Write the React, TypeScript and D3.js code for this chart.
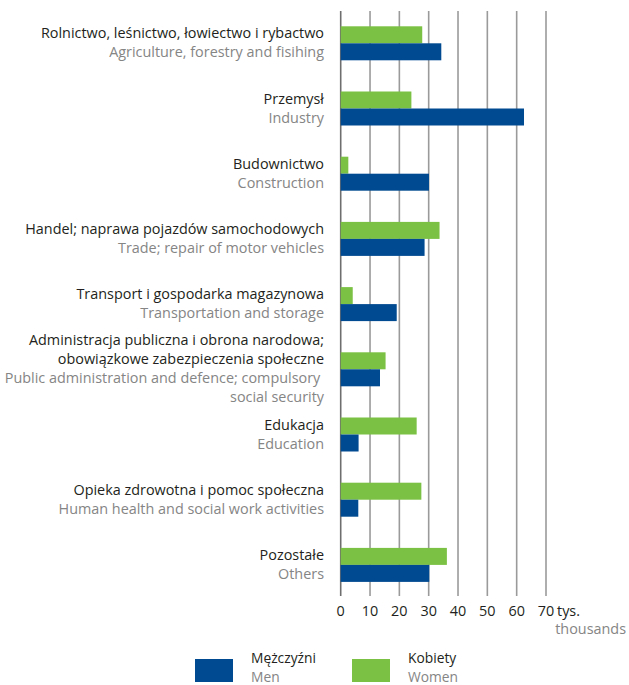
import React, { useEffect, useRef } from "react";
import * as d3 from "d3";

const categoriesPL: string[][] = [
  ["Rolnictwo, leśnictwo, łowiectwo i rybactwo"],
  ["Przemysł"],
  ["Budownictwo"],
  ["Handel; naprawa pojazdów samochodowych"],
  ["Transport i gospodarka magazynowa"],
  ["Administracja publiczna i obrona narodowa;", "obowiązkowe zabezpieczenia społeczne"],
  ["Edukacja"],
  ["Opieka zdrowotna i pomoc społeczna"],
  ["Pozostałe"],
];
const categoriesEN: string[][] = [
  ["Agriculture, forestry and fisihing"],
  ["Industry"],
  ["Construction"],
  ["Trade; repair of motor vehicles"],
  ["Transportation and storage"],
  ["Public administration and defence; compulsory ", "social security"],
  ["Education"],
  ["Human health and social work activities"],
  ["Others"],
];
const men: number[] = [34.3, 62.5, 30.1, 28.6, 19.1, 13.4, 6.1, 6.0, 30.2];
const women: number[] = [27.8, 24.1, 2.6, 33.7, 4.1, 15.3, 25.9, 27.5, 36.2];
const ticks: number[] = [0, 10, 20, 30, 40, 50, 60, 70];
const seriesNames = [
  { key: "men", pl: "Mężczyźni", en: "Men" },
  { key: "women", pl: "Kobiety", en: "Women" },
];

const W = 629;
const H = 685;
const BLUE = "#004a91";
const GREEN = "#7bc143";
const DARK = "#231f20";
const GRAY = "#858585";
const FONT = "'Open Sans', sans-serif";
const FS = 14.4;
const LEG_FS = 13.8;

export default function App() {
  const ref = useRef<SVGSVGElement>(null);

  useEffect(() => {
    const svg = d3.select(ref.current);
    svg.selectAll("*").remove();

    const x = d3.scaleLinear().domain([0, 70]).range([340.7, 546]);
    const y = d3
      .scaleBand<number>()
      .domain(d3.range(categoriesPL.length))
      .range([10.7, 597.5])
      .padding(0);
    const half = 17;
    const sub = d3.scaleBand<string>().domain(["women", "men"]).range([-half, half]);

    const g = svg.append("g");
    g.selectAll("line.grid")
      .data(ticks)
      .join("line")
      .attr("x1", (d) => x(d))
      .attr("x2", (d) => x(d))
      .attr("y1", 11)
      .attr("y2", 596)
      .attr("stroke", (d) => (d === 0 ? "#6e6e6e" : "#9a9a9a"))
      .attr("stroke-width", 1.6);

    g.selectAll("text.tick")
      .data(ticks)
      .join("text")
      .attr("x", (d) => x(d))
      .attr("y", 616)
      .attr("text-anchor", "middle")
      .attr("font-family", FONT)
      .attr("font-size", FS)
      .attr("fill", DARK)
      .text((d) => String(d));
    g.append("text")
      .attr("x", 557)
      .attr("y", 616)
      .attr("font-family", FONT)
      .attr("font-size", FS)
      .attr("fill", DARK)
      .text("tys.");
    g.append("text")
      .attr("x", 626)
      .attr("y", 634)
      .attr("text-anchor", "end")
      .attr("font-family", FONT)
      .attr("font-size", FS)
      .attr("fill", GRAY)
      .text("thousands");

    const groups = g
      .selectAll("g.cat")
      .data(d3.range(categoriesPL.length))
      .join("g")
      .attr("transform", (i) => `translate(0,${y(i)! + y.bandwidth() / 2})`);

    groups
      .append("rect")
      .attr("x", x(0))
      .attr("y", sub("women")!)
      .attr("width", (i) => x(women[i]) - x(0))
      .attr("height", sub.bandwidth())
      .attr("fill", GREEN);
    groups
      .append("rect")
      .attr("x", x(0))
      .attr("y", sub("men")!)
      .attr("width", (i) => x(men[i]) - x(0))
      .attr("height", sub.bandwidth())
      .attr("fill", BLUE);

    const lh = 19;
    groups.each(function (i) {
      const lines = [
        ...categoriesPL[i].map((t) => ({ t, c: DARK })),
        ...categoriesEN[i].map((t) => ({ t, c: GRAY })),
      ];
      const n = lines.length;
      const sel = d3.select(this);
      lines.forEach((ln, k) => {
        sel
          .append("text")
          .attr("x", 324)
          .attr("y", (k - (n - 1) / 2) * lh + 4.5)
          .attr("text-anchor", "end")
          .attr("font-family", FONT)
          .attr("font-size", FS)
          .attr("fill", ln.c)
          .style("white-space", "pre")
          .text(ln.t);
      });
    });

    const legX = [195, 352];
    const leg = svg
      .selectAll("g.leg")
      .data(seriesNames)
      .join("g")
      .attr("transform", (_d, i) => `translate(${legX[i]},0)`);
    leg
      .append("rect")
      .attr("x", 0)
      .attr("y", 659)
      .attr("width", 38)
      .attr("height", 23)
      .attr("fill", (d) => (d.key === "men" ? BLUE : GREEN));
    leg
      .append("text")
      .attr("x", 56)
      .attr("y", 662.5)
      .attr("font-family", FONT)
      .attr("font-size", LEG_FS)
      .attr("fill", DARK)
      .text((d) => d.pl);
    leg
      .append("text")
      .attr("x", 56)
      .attr("y", 681.5)
      .attr("font-family", FONT)
      .attr("font-size", LEG_FS)
      .attr("fill", GRAY)
      .text((d) => d.en);
  }, []);

  return (
    <div style={{ position: "absolute", left: 0, top: 0 }}>
      <svg ref={ref} width={W} height={H} style={{ display: "block", background: "#fff" }} />
    </div>
  );
}
